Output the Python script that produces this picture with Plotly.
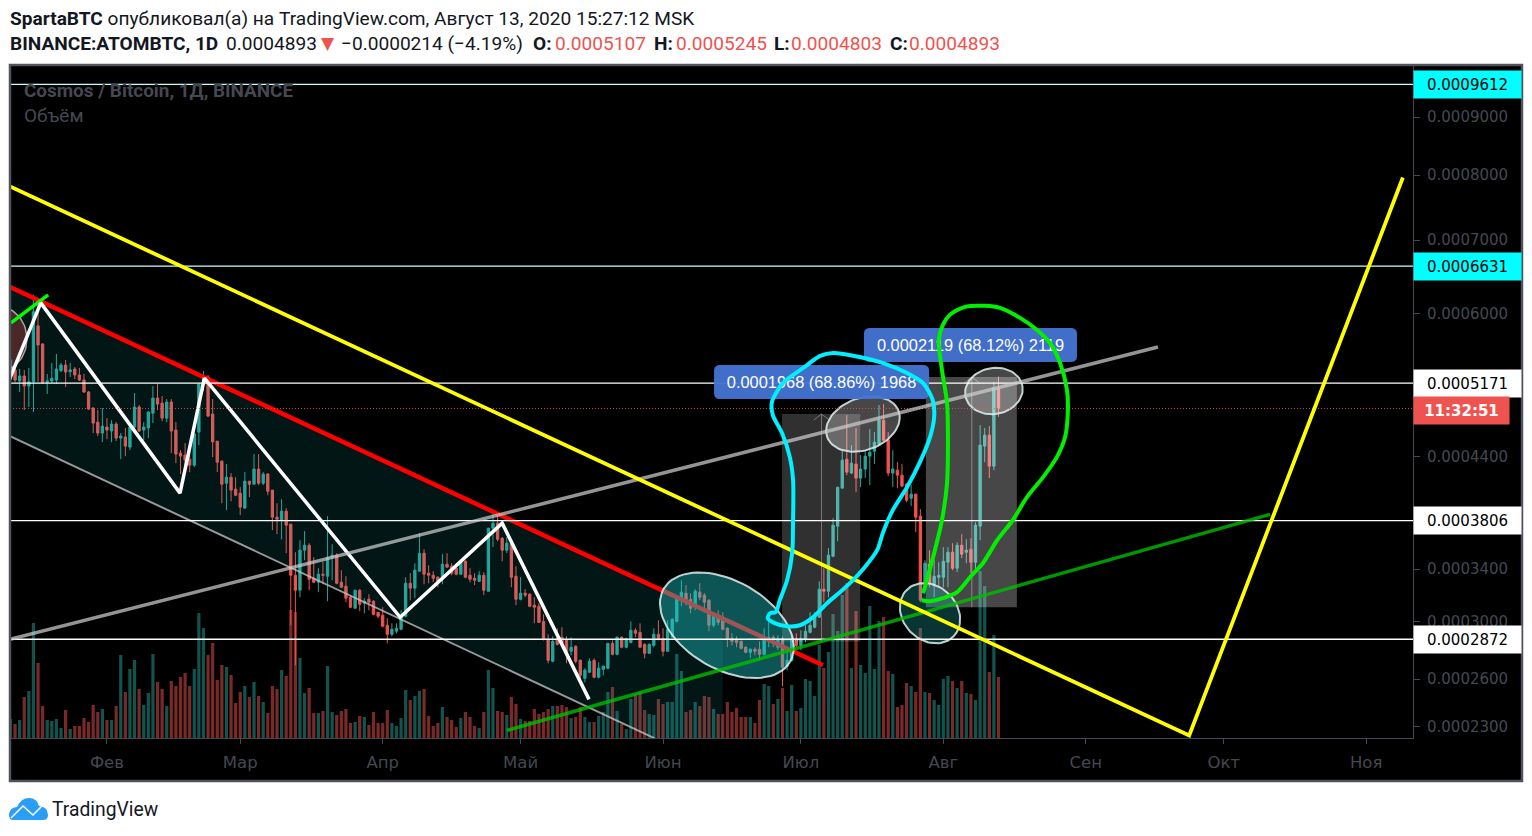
import math
import numpy as np
import pandas as pd
import plotly.graph_objects as go

# ---------- data (prices in units of 1e-7 BTC) ----------
first_day = "2020-01-11"
opens = [5205,5320,5194,5251,5138,5186,5847,5625,5180,5194,5205,5312,5377,5300,5331,5262,5205,5072,4897,4748,
4635,4697,4656,4728,4584,4594,4493,4697,4908,4666,4687,4843,5005,4951,4790,4962,4666,4434,4414,4374,
4316,4645,5150,5240,4833,4553,4354,4144,4201,4089,4052,3916,4163,4135,4278,4144,4230,4080,3836,3809,
3889,3775,3351,3234,3554,3595,3327,3296,3359,3343,3496,3513,3296,3265,3180,3097,3234,3135,3165,3150,
3067,3045,2972,2907,2929,2943,3038,3288,3250,3383,3529,3367,3351,3335,3335,3439,3423,3407,3359,3463,
3351,3327,3303,3351,3226,3740,3783,3654,3554,3612,3343,3165,3211,3203,3120,3112,3000,2871,2720,2878,
2886,2871,2788,2823,2726,2606,2646,2726,2613,2666,2673,2843,2767,2886,2816,2850,2936,2921,2836,2774,
2829,2907,2878,2788,2886,3000,3157,3211,3165,3112,3219,3196,3157,2972,3045,3030,2950,2878,2864,2857,
2816,2781,2802,2802,2767,2864,2886,2816,2878,2686,2726,2878,2829,2871,2921,2958,3030,3242,3226,3504,
3757,4098,4374,4240,4326,4192,4278,4404,4453,4523,4769,4563,4240,4268,4220,4135,4006,4043,3845,3288,
3439,3273,3335,3335,3455,3537,3407,3595,3537,3562,3455,3757,4503,4614,4306,5107]
highs = [5483,5343,5331,5320,5343,6243,6178,5635,5274,5400,5506,5400,5435,5400,5354,5343,5274,5083,4908,4876,
4897,4790,4769,4748,4635,4687,4718,5061,4930,4748,4865,5138,5161,5028,4994,4994,4748,4463,4533,4493,
4635,5172,5308,5262,4994,4553,4364,4326,4240,4201,4107,4249,4163,4424,4424,4249,4240,4080,3960,3996,
3916,3775,3537,3637,3714,3612,3496,3407,3463,3845,3604,3529,3391,3343,3196,3234,3242,3173,3203,3157,
3067,3105,3023,2986,2986,3082,3335,3367,3447,3697,3562,3431,3383,3343,3521,3529,3447,3431,3471,3471,
3407,3367,3383,3375,3740,3871,3854,3663,3663,3620,3423,3335,3242,3211,3180,3135,3052,2907,2893,2950,
2958,2893,2886,2829,2733,2673,2740,2740,2713,2692,2843,2864,2893,2893,2878,3000,2950,2986,2843,2843,
2950,3008,2950,3008,3023,3180,3311,3273,3211,3242,3288,3211,3165,3060,3082,3067,2958,2914,2893,2864,
2823,2809,2816,2857,2950,3000,2900,2900,2893,2795,2900,2914,2936,2972,3067,3067,3303,3407,3571,3827,
4107,4463,4822,4513,4687,4414,4463,4676,4645,4930,4940,4645,4463,4345,4326,4144,4126,4043,3907,3471,
3554,3471,3455,3579,3579,3612,3620,3689,3645,3654,3792,4718,4687,4707,5183,5245]
lows = [5161,5183,5072,4876,4908,4854,5186,5164,5050,5172,5161,5297,5127,5240,5216,5194,5061,4876,4635,4604,
4543,4573,4543,4553,4374,4404,4463,4666,4646,4563,4584,4738,4876,4758,4748,4434,4335,4230,4268,4249,
4297,4513,5083,4801,4394,4249,3960,3898,3978,4024,3854,3916,4015,4135,4126,4126,4033,3723,3689,3645,
3529,2972,2692,3180,3471,3234,3288,3219,3280,3150,3311,3280,3250,3142,3097,3097,3075,3060,3082,3045,
3023,2958,2843,2893,2914,2936,3030,3157,3173,3383,3280,3288,3296,3257,3280,3415,3351,3351,3359,3327,
3296,3273,3296,3196,3226,3579,3629,3463,3529,3257,3120,3157,3180,3105,2986,2993,2864,2706,2713,2829,
2816,2706,2760,2706,2593,2580,2640,2606,2606,2626,2666,2760,2760,2809,2809,2843,2886,2816,2740,2774,
2816,2864,2753,2788,2886,2993,3112,3120,3060,3082,3157,3067,2929,2958,2972,2936,2816,2829,2816,2802,
2774,2740,2760,2733,2760,2816,2816,2795,2554,2660,2720,2816,2795,2850,2914,2950,3030,3142,3180,3496,
3629,4098,4220,4230,4061,4107,4192,4126,4326,4503,4553,4211,4107,4098,4107,3969,3934,3706,3142,3234,
3257,3180,3257,3257,3257,3391,3375,3488,3447,3367,3375,3637,4345,4192,4268,4803]
closes = [5435,5205,5251,5138,5186,6024,5613,5175,5194,5225,5331,5377,5297,5320,5262,5205,5072,4887,4738,4635,
4707,4666,4728,4584,4604,4503,4697,4908,4656,4697,4854,5005,4940,4790,4962,4656,4424,4404,4364,4316,
4625,5161,5228,4812,4546,4345,4135,4201,4080,4033,3925,4163,4135,4278,4144,4230,4070,3836,3818,3889,
3766,3351,3234,3554,3595,3319,3296,3359,3351,3496,3513,3288,3257,3173,3105,3234,3127,3150,3142,3052,
3038,2965,2907,2943,2950,3038,3288,3250,3391,3529,3359,3351,3327,3303,3439,3415,3367,3359,3463,3335,
3319,3311,3351,3234,3740,3783,3645,3554,3612,3335,3165,3211,3196,3112,3105,2993,2871,2726,2857,2836,
2843,2767,2816,2720,2626,2660,2720,2613,2673,2686,2843,2767,2886,2816,2878,2936,2914,2816,2774,2836,
2907,2878,2788,2943,3015,3173,3219,3150,3097,3226,3180,3142,2972,3038,2993,2943,2878,2857,2850,2809,
2781,2802,2788,2767,2886,2886,2864,2878,2680,2726,2878,2829,2878,2929,2972,3045,3242,3226,3513,3766,
4107,4364,4249,4335,4192,4278,4404,4443,4543,4769,4563,4240,4278,4220,4117,3987,4043,3836,3157,3447,
3288,3343,3351,3463,3537,3407,3595,3521,3554,3455,3766,4513,4614,4306,5117,4893]
volumes = [19,14,18,41,47,115,75,32,18,17,19,10,28,9,12,12,20,16,33,26,
29,18,18,32,83,46,69,78,49,33,45,84,56,49,32,57,52,61,65,52,
69,125,110,83,95,58,73,71,63,35,46,52,41,56,42,36,25,52,49,68,
62,128,126,80,45,50,25,25,27,72,26,23,27,29,15,16,22,21,13,26,
15,15,28,15,12,20,48,38,42,47,49,22,12,15,31,21,18,11,20,26,
21,12,10,26,68,50,27,26,23,41,34,19,17,17,29,24,26,29,32,32,
33,31,20,21,31,21,16,16,22,26,46,51,27,14,9,39,44,46,28,24,
23,39,34,36,36,84,67,26,28,36,32,42,41,29,24,24,36,26,30,21,
21,21,15,38,54,52,34,39,50,27,53,27,30,59,57,42,93,70,86,124,
107,143,155,70,127,73,65,132,69,117,121,67,64,31,33,55,52,46,110,46,
45,38,33,59,62,57,50,57,45,44,38,167,152,66,103,61]

month_dates = ["2020-02-01","2020-03-01","2020-04-01","2020-05-01","2020-06-01","2020-07-01","2020-08-01","2020-09-01","2020-10-01","2020-11-01"]
month_labels = ["Фев","Мар","Апр","Май","Июн","Июл","Авг","Сен","Окт","Ноя"]
price_ticks = [9000,8000,7000,6000,4400,3400,3000,2600,2300]
level_cyan = [9612,6631]
level_white = [5171,3806,2872]
last_price = 4893

# drawings: days from 1 Feb 2020, price in 1e-7 BTC
red_days, red_prices = [-21.1,155.8], [6348,2693]
floor_days, floor_prices = [-21.1,119.2], [4604,2232]
channel_days, channel_prices = [-21.1,134.0,134.0,-21.1], [6348,3019,2048,4604]
yellow_days, yellow_prices = [-21.1,235.5,282.0], [7818,2249,7963]
gray_days, gray_prices = [-21.1,228.7], [2871,5589]
green_days, green_prices = [87.0,253.1], [2279,3861]
lime_short_days, lime_short_prices = [-20.9,-12.8], [5884,6243]
zig_days = [-21.1,-14.4,15.9,21.2,63.8,86.0,104.9]
zig_prices = [5228,6139,4052,5228,3030,3783,2470]
cyan_days = [145.5,144.3,143.8,145.4,148.0,150.8,153.6,156.7,159.5,162.3,164.9,167.6,168.9,171.0,174.1,176.9,179.1,180.0,179.7,177.6,174.1,168.9,163.8,158.0,155.2,151.5,147.1,144.7,144.9,146.9,148.6,149.3,149.3,149.1,148.0,146.4,145.5]
cyan_prices = [3067,3060,3023,2986,2965,2972,3030,3135,3219,3311,3415,3554,3706,3898,4107,4345,4594,4801,4983,5171,5285,5400,5471,5519,5483,5343,5171,4962,4822,4635,4394,4172,3809,3529,3311,3157,3067]
lime_days = [177.6,178.4,180.0,181.7,182.8,183.0,182.8,181.7,181.0,181.9,183.4,186.7,191.0,194.3,198.7,202.4,205.2,207.4,208.9,209.1,208.5,206.7,203.7,200.2,197.1,193.7,190.6,187.8,185.0,181.9,179.1,177.3]
lime_prices = [3211,3311,3529,3809,4144,4493,4951,5320,5673,5859,5985,6088,6101,6075,5947,5797,5637,5400,5094,4876,4594,4394,4201,4015,3809,3637,3447,3335,3219,3173,3150,3157]

# ---------- scale ----------
OFFSET = 1030          # the price scale is logarithmic about (price + offset)
PX_DAY, PX_LN = 4.595, 553.0
FEB1 = pd.Timestamp("2020-02-01")
def D(days):
    return FEB1 + pd.to_timedelta(days, "D")
def Ds(seq):
    return [D(v) for v in seq]
def P(seq):
    return [(v + OFFSET) * 1e-7 for v in seq]

X_RANGE = [D(-21.1), D(284.2)]
Y2_RANGE = [math.log10(3264e-7), math.log10(11002e-7)]

W, H = 1532, 836
L, R, T, B = 10, 1413, 66, 738
def px(x): return (x - L) / (R - L)
def py(y): return (B - y) / (B - T)

def offset_shape(day, price, xs, ys):
    return [D(day + x / PX_DAY) for x in xs], [(price + OFFSET) * 1e-7 * math.exp(-y / PX_LN) for y in ys]

def ellipse(day, price, a, b, deg):
    t = np.linspace(0, 2 * np.pi, 73)
    r = math.radians(deg)
    xs = a * np.cos(t) * math.cos(r) - b * np.sin(t) * math.sin(r)
    ys = a * np.cos(t) * math.sin(r) + b * np.sin(t) * math.cos(r)
    return offset_shape(day, price, xs, ys)

def rounded(day, price, w, h, r):
    xs, ys = [], []
    for cx, cy, a0 in [(w/2-r, h/2-r, 0), (-w/2+r, h/2-r, 90), (-w/2+r, -h/2+r, 180), (w/2-r, -h/2+r, 270)]:
        for a in range(a0, a0 + 91, 30):
            xs.append(cx + r * math.cos(math.radians(a)))
            ys.append(cy + r * math.sin(math.radians(a)))
    xs.append(xs[0]); ys.append(ys[0])
    return offset_shape(day, price, xs, ys)

dates = pd.date_range(first_day, periods=len(opens))
up = [c >= o for o, c in zip(opens, closes)]
fig = go.Figure()

fig.add_trace(go.Bar(x=dates, y=volumes, width=60480000, yaxis="y", xaxis="x",
    marker=dict(color=["rgba(38,166,154,0.5)" if u else "rgba(239,83,80,0.5)" for u in up], line_width=0),
    hoverinfo="skip", showlegend=False))
fig.add_trace(go.Candlestick(x=dates, open=P(opens), high=P(highs), low=P(lows), close=P(closes), yaxis="y2", xaxis="x",
    increasing=dict(line=dict(color="#26a69a", width=1), fillcolor="#26a69a"),
    decreasing=dict(line=dict(color="#ef5350", width=1), fillcolor="#ef5350"),
    whiskerwidth=0, hoverinfo="skip", showlegend=False))

def line(xs, ys, color, width, dash=None, shape="linear"):
    fig.add_trace(go.Scatter(x=xs, y=ys, mode="lines", yaxis="y2", xaxis="x", hoverinfo="skip", showlegend=False,
        line=dict(color=color, width=width, dash=dash, shape=shape, smoothing=0.8)))

def poly(xs, ys, fill, color="rgba(0,0,0,0)", width=0):
    fig.add_trace(go.Scatter(x=xs, y=ys, mode="lines", yaxis="y2", xaxis="x", hoverinfo="skip", showlegend=False,
        fill="toself", fillcolor=fill, line=dict(color=color, width=width)))

# channel
poly(Ds(channel_days), P(channel_prices), "rgba(20,170,170,0.13)")
line(Ds(floor_days), P(floor_prices), "rgba(200,200,200,0.75)", 2)
line(Ds(red_days), P(red_prices), "#ff0000", 4.5)

# left ellipse and short lime stroke
e = ellipse(-23.3, 5685, 27, 32, 0)
poly(e[0], e[1], "rgba(239,83,80,0.3)", "rgba(255,255,255,0.6)", 1.5)
line(Ds(lime_short_days), P(lime_short_prices), "#00ff00", 3.5)

# zigzag
line(Ds(zig_days), P(zig_prices), "#ffffff", 3.5)

# price-range boxes
rect1 = ([146.9,163.9,163.9,146.9,146.9], [4833,4833,2857,2857,4833])
rect2 = ([178.2,198.0,198.0,178.2,178.2], [5240,5240,3105,3105,5240])
poly(Ds(rect1[0]), P(rect1[1]), "rgba(255,255,255,0.19)")
poly(Ds(rect2[0]), P(rect2[1]), "rgba(255,255,255,0.28)")
line(Ds([155.5,155.5]), P([4833,2857]), "rgba(150,150,150,0.7)", 1)
line(Ds([188.2,188.2]), P([5240,3105]), "rgba(170,170,170,0.7)", 1)
line(Ds([153.8,155.5,157.2]), P([4770,4833,4770]), "rgba(150,150,150,0.7)", 1)
line(Ds([186.5,188.2,189.9]), P([5170,5240,5170]), "rgba(170,170,170,0.7)", 1)

# ellipses
for (d, p, a, b, deg, fill) in [(134.9,2972,73,44,30,"rgba(30,200,200,0.42)"),
                                (179.1,3060,33,27,45,"rgba(30,200,200,0.26)"),
                                (164.5,4728,38,26,-20,"rgba(255,255,255,0.28)"),
                                (193.0,5083,29,23,-10,"rgba(255,255,255,0.28)")]:
    e = ellipse(d, p, a, b, deg)
    poly(e[0], e[1], fill, "rgba(225,240,240,0.85)", 2)

# level lines
for v in level_cyan:
    line(X_RANGE, P([v, v]), "#c8ffff", 1.4)
for v in level_white:
    line(X_RANGE, P([v, v]), "#ffffff", 1.4)
line(X_RANGE, P([last_price, last_price]), "rgba(239,83,80,0.85)", 1, dash="1px,2px")

# trend lines
line(Ds(gray_days), P(gray_prices), "rgba(205,205,205,0.72)", 3.5)
line(Ds(green_days), P(green_prices), "rgba(0,190,0,0.8)", 3.5)
line(Ds(yellow_days), P(yellow_prices), "#ffff00", 3.8)

# blue labels
for d, p, w, txt in [(155.5, 5182, 215, "0.0001968 (68.86%) 1968"), (187.9, 5613, 213, "0.0002119 (68.12%) 2119")]:
    b = rounded(d, p, w, 34, 5)
    poly(b[0], b[1], "rgba(68,114,208,0.96)")
    fig.add_trace(go.Scatter(x=[D(d)], y=[(p + OFFSET) * 1e-7 * math.exp(-2 / PX_LN)], mode="text", text=[txt], yaxis="y2", xaxis="x",
        textposition="middle center", textfont=dict(family="Liberation Sans", size=16.4, color="#ffffff"),
        hoverinfo="skip", showlegend=False))

# freehand
line(Ds(cyan_days), P(cyan_prices), "#00f0ff", 4, shape="spline")
line(Ds(lime_days), P(lime_prices), "#00f000", 4, shape="spline")

AXC = "#454852"
AXF = "DejaVu Sans"
annotations = []
def text(x, y, s, size, color="#131722", family="Roboto", anchor="left"):
    annotations.append(dict(xref="paper", yref="paper", x=px(x), y=py(y), text=s, showarrow=False, xanchor=anchor, yanchor="middle",
        font=dict(family=family, size=size, color=color), align="left", borderpad=0))

HF = 19.1
RED = "#ef5350"
text(9, 18, "<b>SpartaBTC</b> опубликовал(а) на TradingView.com, Август 13, 2020 15:27:12 MSK", HF)
text(9, 43, "<b>BINANCE:ATOMBTC, 1D</b>", HF)
text(225, 43, "0.0004893", HF)
text(320, 43, "▼", 17, color=RED, family="DejaVu Sans")
text(340, 43, "−0.0000214 (−4.19%)", HF)
for x, s in [(532, "O:"), (653, "H:"), (773, "L:"), (889, "C:")]:
    text(x, 43, f"<b>{s}</b>", HF)
for x, s in [(554, "0.0005107"), (675, "0.0005245"), (790, "0.0004803"), (908, "0.0004893")]:
    text(x, 43, s, HF, color=RED)
text(23, 91, "<b>Cosmos / Bitcoin, 1Д, BINANCE</b>", 18.9, color=AXC)
text(23, 116, "Объём", 19, color=AXC)
text(51, 809, "TradingView", 19.3, color="#131722")

def price_label(value, txt, bg, fg, width=103, bold=False, at=None):
    annotations.append(dict(xref="paper", yref="y2", x=px(1413), y=math.log10(((at or value) + OFFSET) * 1e-7),
        text=f"<b>{txt}</b>" if bold else txt, showarrow=False, xanchor="left", yanchor="middle",
        width=width, height=23, bgcolor=bg, borderpad=2, align="center",
        font=dict(family=AXF, size=15, color=fg)))

for v in level_cyan:
    price_label(v, f"0.000{v}", "#00ffff", "#000000")
for v in level_white:
    price_label(v, f"0.000{v}", "#ffffff", "#000000")
price_label(last_price, "11:32:51", "#ef5350", "#ffffff", width=91, bold=True, at=4870)

shapes = [
    dict(type="rect", xref="paper", yref="paper", layer="below", x0=px(10), x1=px(1522), y0=py(781), y1=py(65),
         fillcolor="#000000", line_width=0),
    dict(type="rect", xref="paper", yref="paper", layer="above", x0=px(10), x1=px(1522), y0=py(781), y1=py(65),
         fillcolor="rgba(0,0,0,0)", line=dict(color="#50535e", width=2.5)),
]
def pp(x, y): return f"{px(x):.5f},{py(y):.5f}"
cloud = ("M " + pp(9, 815) + " Q " + pp(9, 808) + " " + pp(17, 807) + " Q " + pp(21, 798) + " " + pp(29, 798)
         + " Q " + pp(37, 798) + " " + pp(39, 806) + " Q " + pp(48, 807) + " " + pp(48, 815) + " Q " + pp(48, 820) + " " + pp(43, 820)
         + " L " + pp(13, 820) + " Q " + pp(9, 820) + " " + pp(9, 815) + " Z")
shapes.append(dict(type="path", xref="paper", yref="paper", path=cloud, fillcolor="#2a9df4", line_width=0))
shapes.append(dict(type="path", xref="paper", yref="paper", layer="above",
    path="M " + pp(11, 818) + " L " + pp(23, 806) + " L " + pp(33, 815) + " L " + pp(43, 805),
    line=dict(color="#ffffff", width=1.5), fillcolor="rgba(0,0,0,0)"))

fig.update_layout(
    width=W, height=H, autosize=False,
    margin=dict(l=L, r=W - R, t=T, b=H - B, pad=0),
    paper_bgcolor="#ffffff", plot_bgcolor="#000000",
    showlegend=False, barmode="overlay", boxgap=0.28, dragmode=False,
    annotations=annotations, shapes=shapes,
    xaxis=dict(type="date", range=X_RANGE, rangeslider=dict(visible=False), showgrid=False, zeroline=False,
               tickmode="array", tickvals=month_dates, ticktext=month_labels, ticks="outside", ticklen=5, tickwidth=1, tickcolor=AXC,
               tickfont=dict(family=AXF, size=16.5, color=AXC), ticklabelstandoff=4, showline=True, linecolor=AXC, linewidth=1),
    yaxis=dict(range=[0, B - T], visible=False, fixedrange=True),
    yaxis2=dict(type="log", range=Y2_RANGE, overlaying="y", side="right", anchor="x", showgrid=False, zeroline=False,
                tickmode="array", tickvals=P(price_ticks), ticktext=[f"0.000{v}" for v in price_ticks],
                ticks="outside", ticklen=6, tickwidth=1, tickcolor=AXC, ticklabelstandoff=4,
                tickfont=dict(family=AXF, size=15, color=AXC), showline=True, linecolor=AXC, linewidth=1),
)

fig.write_html("out.html", config=dict(displayModeBar=False, staticPlot=True),
               post_script="document.body.style.margin='0';document.body.style.overflow='hidden';")
